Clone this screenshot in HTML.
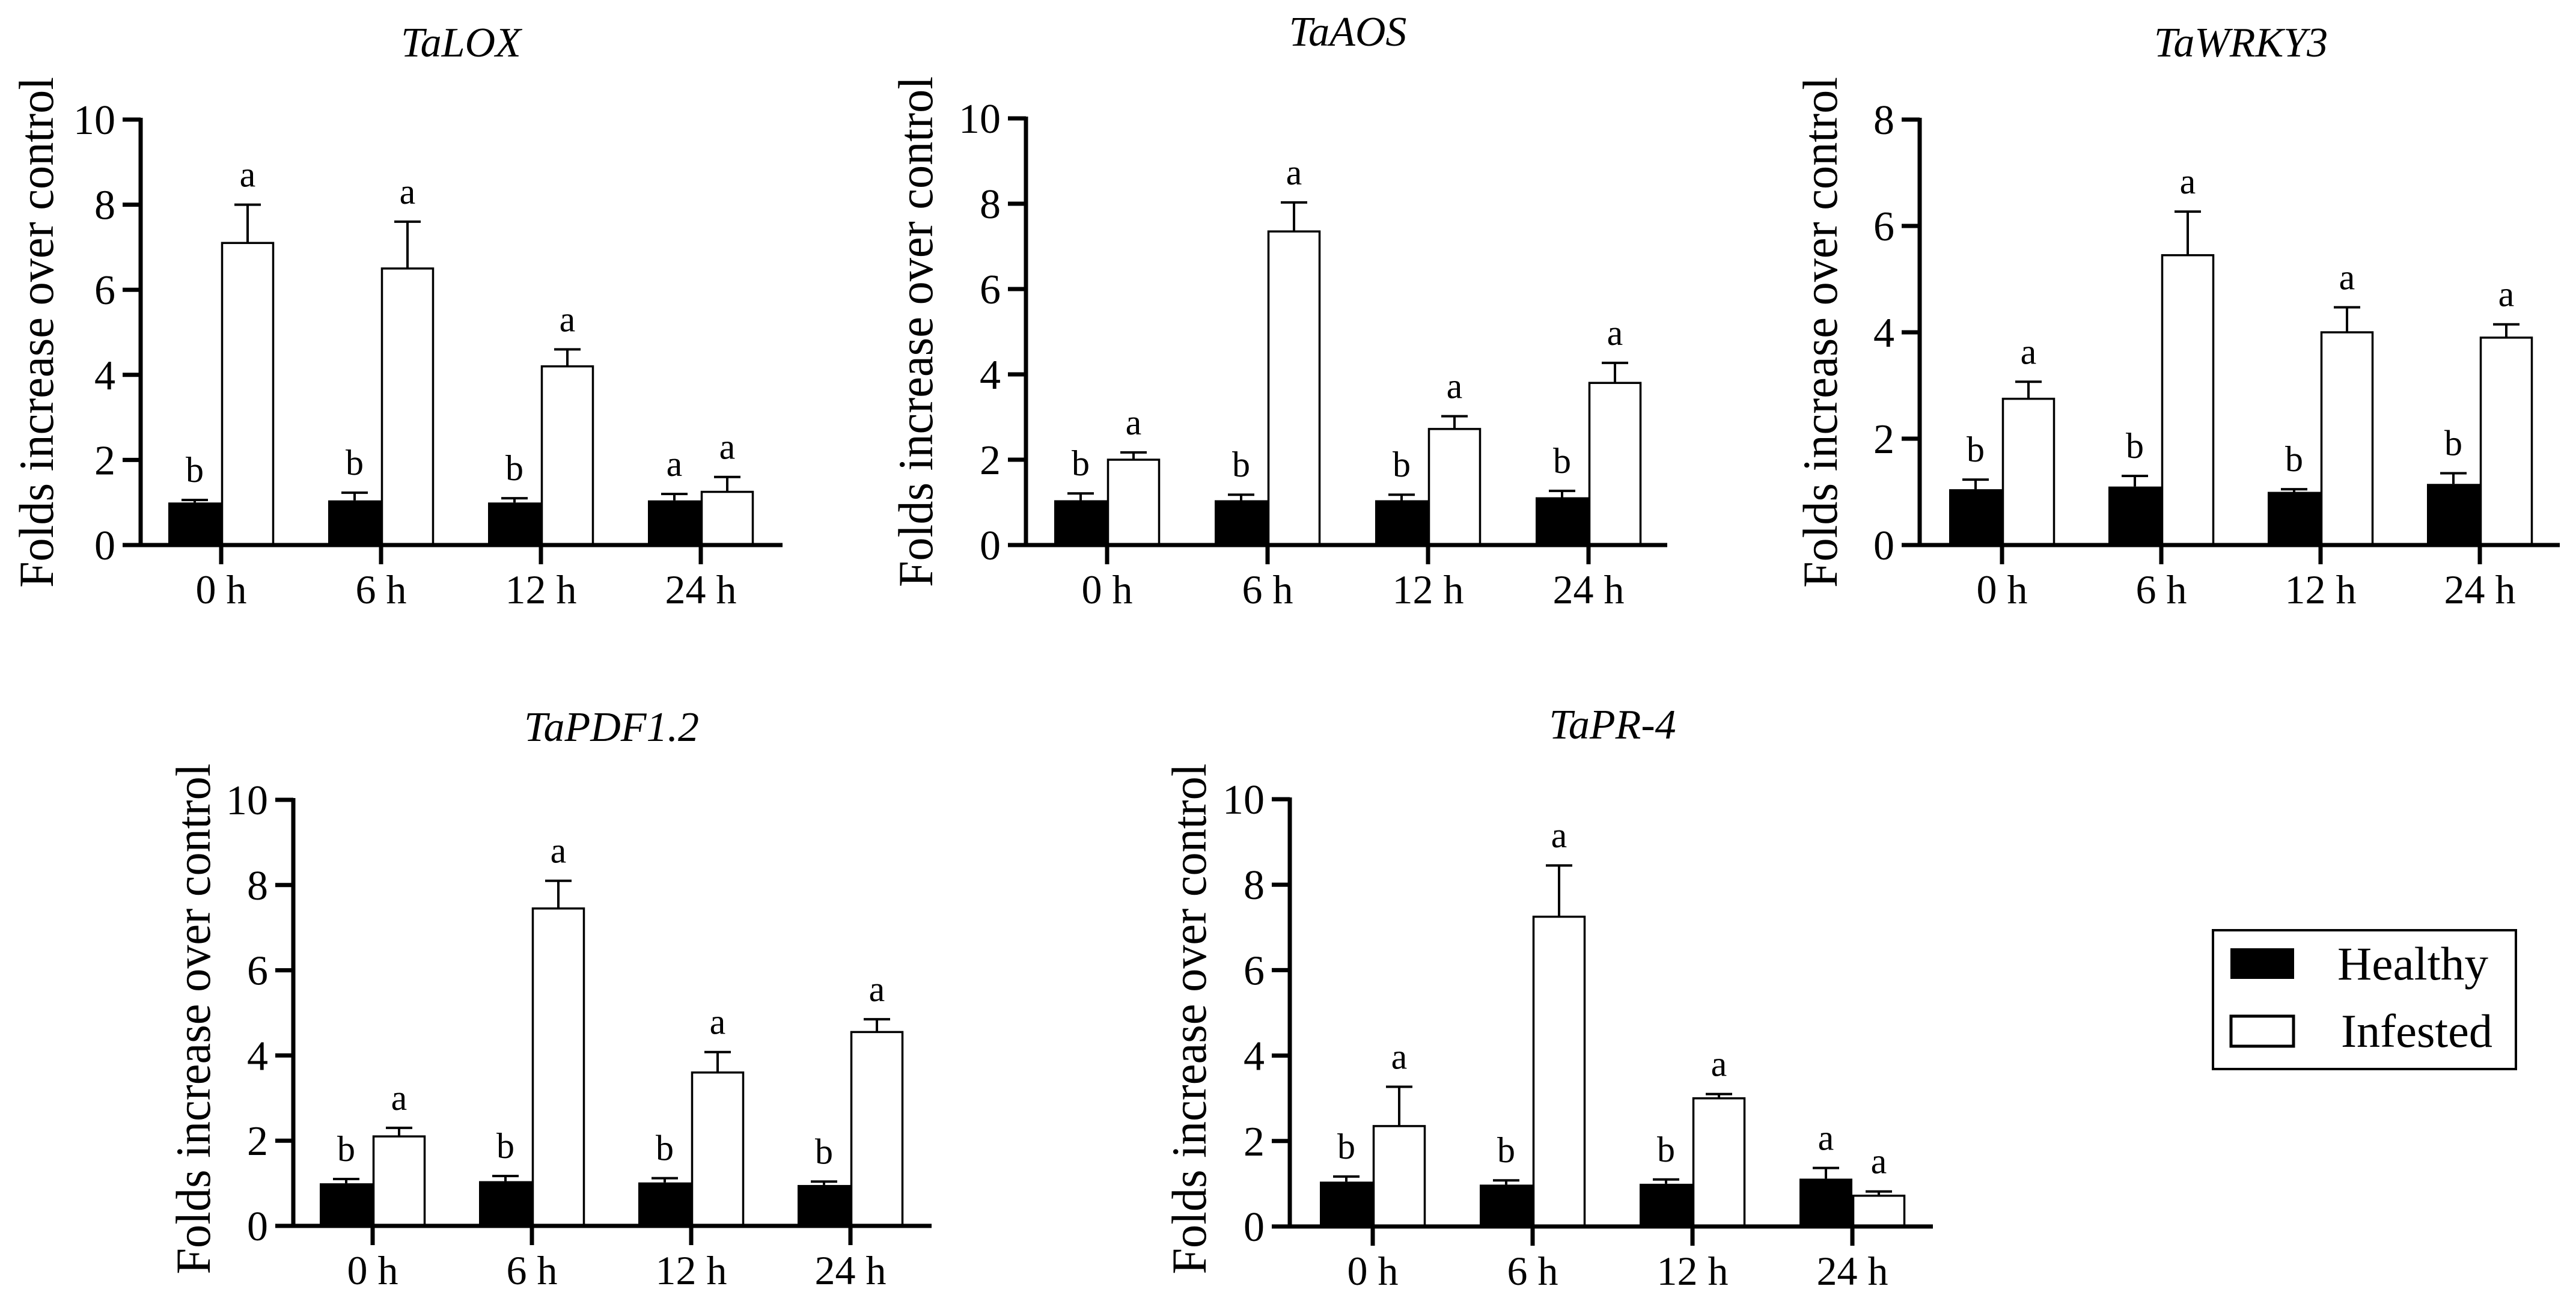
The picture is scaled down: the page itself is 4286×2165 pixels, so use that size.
<!DOCTYPE html>
<html><head><meta charset="utf-8">
<style>
html,body{margin:0;padding:0;background:#fff;}
svg{display:block;font-family:"Liberation Serif",serif;}
svg text{font-family:"Liberation Serif",serif !important;fill:#000;}
</style></head>
<body>
<svg id="fig" width="4286" height="2165" viewBox="0 0 4286 2165" xmlns="http://www.w3.org/2000/svg" font-family="Liberation Serif, serif">
<rect width="4286" height="2165" fill="#fff"/>
<g id="legend">
  <rect x="3682" y="1548" width="504" height="231" fill="#fff" stroke="#000" stroke-width="4"/>
  <rect x="3711" y="1578" width="106" height="51" fill="#000"/>
  <text x="3889" y="1630" font-size="78" font-family="Liberation Serif, serif" textLength="251" lengthAdjust="spacingAndGlyphs">Healthy</text>
  <rect x="3712" y="1691" width="104" height="50" fill="#fff" stroke="#000" stroke-width="5"/>
  <text x="3895" y="1742" font-size="78" font-family="Liberation Serif, serif" textLength="252" lengthAdjust="spacingAndGlyphs">Infested</text>
</g>
</svg>
<script>
const categories = ["0 h","6 h","12 h","24 h"];
const titles = ["TaLOX","TaAOS","TaWRKY3","TaPDF1.2","TaPR-4"];
const yMaxes = [10,10,8,10,10];
const yStepsArr = [2,2,2,2,2];
const healthyLOX = [1.0,1.05,1.0,1.05];
const healthyLOXErr = [0.06,0.18,0.1,0.15];
const infestedLOX = [7.1,6.5,4.2,1.25];
const infestedLOXErr = [0.9,1.1,0.4,0.35];
const lettersHLOX = ["b","b","b","a"];
const lettersILOX = ["a","a","a","a"];
const healthyAOS = [1.05,1.05,1.05,1.12];
const healthyAOSErr = [0.16,0.13,0.13,0.15];
const infestedAOS = [2.0,7.35,2.72,3.8];
const infestedAOSErr = [0.17,0.68,0.3,0.47];
const lettersHAOS = ["b","b","b","b"];
const lettersIAOS = ["a","a","a","a"];
const healthyWRKY = [1.05,1.1,1.0,1.15];
const healthyWRKYErr = [0.18,0.2,0.05,0.2];
const infestedWRKY = [2.75,5.45,4.0,3.9];
const infestedWRKYErr = [0.32,0.82,0.47,0.25];
const lettersHWRKY = ["b","b","b","b"];
const lettersIWRKY = ["a","a","a","a"];
const healthyPDF = [1.0,1.05,1.02,0.96];
const healthyPDFErr = [0.1,0.12,0.1,0.08];
const infestedPDF = [2.1,7.45,3.6,4.55];
const infestedPDFErr = [0.2,0.65,0.48,0.3];
const lettersHPDF = ["b","b","b","b"];
const lettersIPDF = ["a","a","a","a"];
const healthyPR = [1.05,0.98,1.0,1.12];
const healthyPRErr = [0.12,0.1,0.1,0.25];
const infestedPR = [2.35,7.25,3.0,0.72];
const infestedPRErr = [0.92,1.2,0.1,0.1];
const lettersHPR = ["b","b","b","a"];
const lettersIPR = ["a","a","a","a"];

const NS="http://www.w3.org/2000/svg";
const svg=document.getElementById('fig');
function mk(tag,attrs,parent){const e=document.createElementNS(NS,tag);for(const k in attrs)e.setAttribute(k,attrs[k]);if(tag==='text')e.setAttribute('font-family','Liberation Serif, serif');(parent||svg).appendChild(e);return e;}

const layouts=[
 {ax:234,c0:368,dc:266,end:1302,y0:907,yTop:199,ty:70,lx:60},
 {ax:1707,c0:1842,dc:267,end:2774,y0:907,yTop:197,ty:52,lx:1523},
 {ax:3194,c0:3331,dc:265,end:4259,y0:907,yTop:199,ty:70,lx:3028},
 {ax:488,c0:620,dc:265,end:1550,y0:2040,yTop:1331,ty:1209,lx:321},
 {ax:2146,c0:2284,dc:266,end:3216,y0:2041,yTop:1330,ty:1205,lx:1978}
];
const dataSets=[
 [healthyLOX,healthyLOXErr,infestedLOX,infestedLOXErr,lettersHLOX,lettersILOX],
 [healthyAOS,healthyAOSErr,infestedAOS,infestedAOSErr,lettersHAOS,lettersIAOS],
 [healthyWRKY,healthyWRKYErr,infestedWRKY,infestedWRKYErr,lettersHWRKY,lettersIWRKY],
 [healthyPDF,healthyPDFErr,infestedPDF,infestedPDFErr,lettersHPDF,lettersIPDF],
 [healthyPR,healthyPRErr,infestedPR,infestedPRErr,lettersHPR,lettersIPR]
];
const BW=88;
layouts.forEach((L,p)=>{
  const g=mk('g',{});
  
  
  const yMax=yMaxes[p];
  const yS=v=>L.y0-(L.y0-L.yTop)*v/yMax;
  const xS=i=>L.c0+L.dc*i;
  const [hv,he,iv,ie,lh,li]=dataSets[p];
  const t=mk('text',{x:(L.c0+L.c0+3*L.dc)/2,y:L.ty+24,'font-size':70,'font-style':'italic','text-anchor':'middle'},g);
  t.textContent=titles[p];
  
  
  const cy=(L.y0+L.yTop)/2+ (p<3?0:10);
  const yl=mk('text',{x:0,y:0,'font-size':82,'text-anchor':'middle',textLength:850,lengthAdjust:'spacingAndGlyphs',transform:`translate(${L.lx+28},${cy}) rotate(-90)`},g);
  yl.textContent='Folds increase over control';
  
  
  for(let i=0;i<categories.length;i++){
    const cx=xS(i);
    const hb=mk('rect',{x:cx-BW,y:yS(hv[i]),width:BW,height:L.y0-yS(hv[i]),fill:'#000'},g);
    
    
    const ib=mk('rect',{x:cx+1.5,y:yS(iv[i]),width:BW-3,height:L.y0-yS(iv[i]),fill:'#fff',stroke:'#000','stroke-width':3.5},g);
    
    
    [[cx-BW/2,hv[i],he[i],lh[i],'healthy'],[cx+BW/2,iv[i],ie[i],li[i],'infested']].forEach(([mx,v,e,l,s])=>{
      const top=yS(v+e);
      const eb=mk('path',{d:`M${mx},${yS(v)} V${top} M${mx-22},${top} H${mx+22}`,stroke:'#000','stroke-width':4,fill:'none'},g);
      
      
      const lt=mk('text',{x:mx,y:top-30,'font-size':60,'text-anchor':'middle'},g);
      lt.textContent=l;
      
      
    });
    const tk=mk('line',{x1:cx,x2:cx,y1:L.y0,y2:L.y0+32,stroke:'#000','stroke-width':7},g);
    
    
    const xl=mk('text',{x:cx,y:L.y0+97,'font-size':68,'text-anchor':'middle'},g);
    xl.textContent=categories[i];
    
    
  }
  const ya=mk('line',{x1:L.ax,x2:L.ax,y1:L.yTop-3,y2:L.y0+3.5,stroke:'#000','stroke-width':7},g);
  
  
  const xa=mk('line',{x1:L.ax-30,x2:L.end,y1:L.y0,y2:L.y0,stroke:'#000','stroke-width':7},g);
  
  
  for(let v=0;v<=yMax;v+=yStepsArr[p]){
    const y=yS(v);
    const tk=mk('line',{x1:L.ax-30,x2:L.ax,y1:y,y2:y,stroke:'#000','stroke-width':7},g);
    
    
    const tl=mk('text',{x:L.ax-42,y:y+24,'font-size':70,'text-anchor':'end'},g);
    tl.textContent=String(v);
    
    
  }
});
</script>
</body></html>
